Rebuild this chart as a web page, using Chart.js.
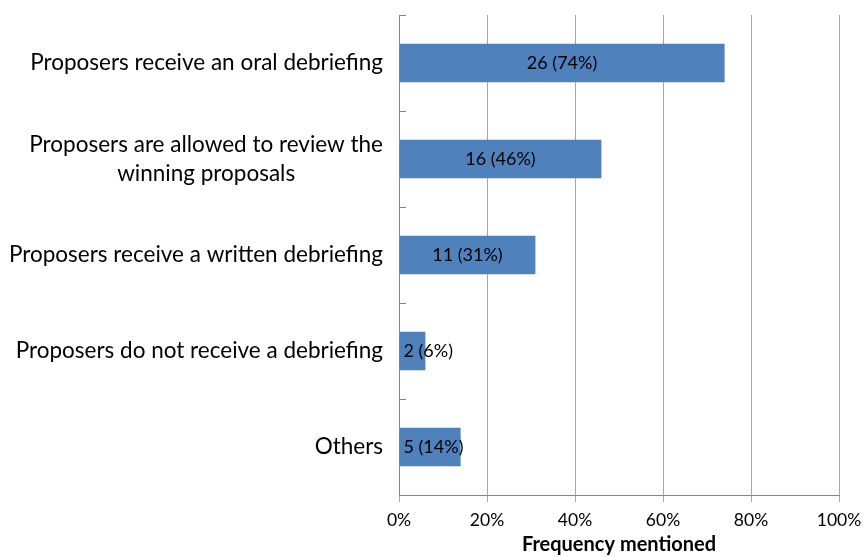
<!DOCTYPE html>
<html>
<head>
<meta charset="utf-8">
<script src="https://cdn.jsdelivr.net/npm/chart.js@4"></script>
<style>
  html, body { margin: 0; padding: 0; background: #fff; }
  #wrap { width: 865px; height: 557px; }
</style>
</head>
<body>
<div id="wrap"><canvas id="chart"></canvas></div>
<script>
var categories = [
    'Proposers receive an oral debriefing',
    ['Proposers are allowed to review the', 'winning proposals'],
    'Proposers receive a written debriefing',
    'Proposers do not receive a debriefing',
    'Others'
];
var counts = [26, 16, 11, 2, 5];
var percents = [74, 46, 31, 6, 14];
var tickValues = [0, 20, 40, 60, 80, 100];

var FONT = 'Lato, "Open Sans", sans-serif';
var LABEL_SIZE = 22.5;
var AXIS_COLOR = '#868686';

// category labels: right aligned as a block, lines centred within the block
var categoryLabels = {
    id: 'categoryLabels',
    afterDraw: function(chart){
        var ctx = chart.ctx;
        var y = chart.scales.y;
        var right = y.right - 16;
        var lineH = 29;
        ctx.save();
        ctx.font = LABEL_SIZE + 'px ' + FONT;
        ctx.fillStyle = '#000';
        ctx.textAlign = 'center';
        ctx.textBaseline = 'middle';
        categories.forEach(function(label, i){
            var lines = Array.isArray(label) ? label : [label];
            var w = Math.max.apply(null, lines.map(function(l){ return ctx.measureText(l).width; }));
            var cx = right - w / 2;
            var cy = y.getPixelForValue(i);
            lines.forEach(function(line, j){
                ctx.fillText(line, cx, cy + (j - (lines.length - 1) / 2) * lineH);
            });
        });

        // short inside ticks between categories
        ctx.strokeStyle = AXIS_COLOR;
        ctx.lineWidth = 1;
        var n = categories.length;
        for (var k = 0; k <= n; k++){
            var ty = Math.round(y.top + k * (y.bottom - y.top) / n) + 0.5;
            ctx.beginPath();
            ctx.moveTo(y.right, ty);
            ctx.lineTo(y.right + 7, ty);
            ctx.stroke();
        }
        ctx.restore();
    }
};

// value labels: centred on the bar, pushed right when the bar is too short
var valueLabels = {
    id: 'valueLabels',
    afterDatasetsDraw: function(chart){
        var ctx = chart.ctx;
        var meta = chart.getDatasetMeta(0);
        ctx.save();
        ctx.font = '18px ' + FONT;
        ctx.fillStyle = '#000';
        ctx.textAlign = 'center';
        ctx.textBaseline = 'middle';
        meta.data.forEach(function(bar, i){
            var text = counts[i] + ' (' + percents[i] + '%)';
            var w = ctx.measureText(text).width;
            var cx = Math.max((bar.x + bar.base) / 2, bar.base + 4 + w / 2);
            ctx.fillText(text, cx, bar.y);
        });
        ctx.restore();
    }
};

new Chart(document.getElementById('chart'), {
    type: 'bar',
    data: {
        labels: categories,
        datasets: [{
            data: percents,
            backgroundColor: '#4F81BD',
            borderWidth: 0,
            barPercentage: 0.4,
            categoryPercentage: 1
        }]
    },
    options: {
        indexAxis: 'y',
        responsive: true,
        maintainAspectRatio: false,
        animation: false,
        layout: { padding: { top: 15, right: 26, left: 0, bottom: 0 } },
        plugins: {
            legend: { display: false },
            tooltip: { enabled: false }
        },
        scales: {
            x: {
                min: 0,
                max: 100,
                afterBuildTicks: function(scale){
                    scale.ticks = tickValues.map(function(v){ return { value: v }; });
                },
                afterFit: function(scale){
                    scale.height = 62;
                    // let the last tick label hang into the right margin
                    scale.paddingLeft = 0;
                    scale.paddingRight = 0;
                },
                grid: {
                    color: '#A6A6A6',
                    lineWidth: 1,
                    tickLength: 7
                },
                border: { color: AXIS_COLOR, width: 1 },
                ticks: {
                    color: '#000',
                    padding: 8,
                    font: { family: FONT, size: 17.5 },
                    callback: function(v){ return v + '%'; }
                },
                title: {
                    display: true,
                    text: 'Frequency mentioned',
                    color: '#000',
                    font: { family: FONT, size: 20, weight: 'bold' },
                    padding: { top: 0, bottom: 0 }
                }
            },
            y: {
                afterFit: function(scale){ scale.width = 399; },
                grid: { display: true, drawOnChartArea: false, drawTicks: false },
                border: { color: AXIS_COLOR, width: 1 },
                ticks: { display: false }
            }
        }
    },
    plugins: [categoryLabels, valueLabels]
});
</script>
</body>
</html>
